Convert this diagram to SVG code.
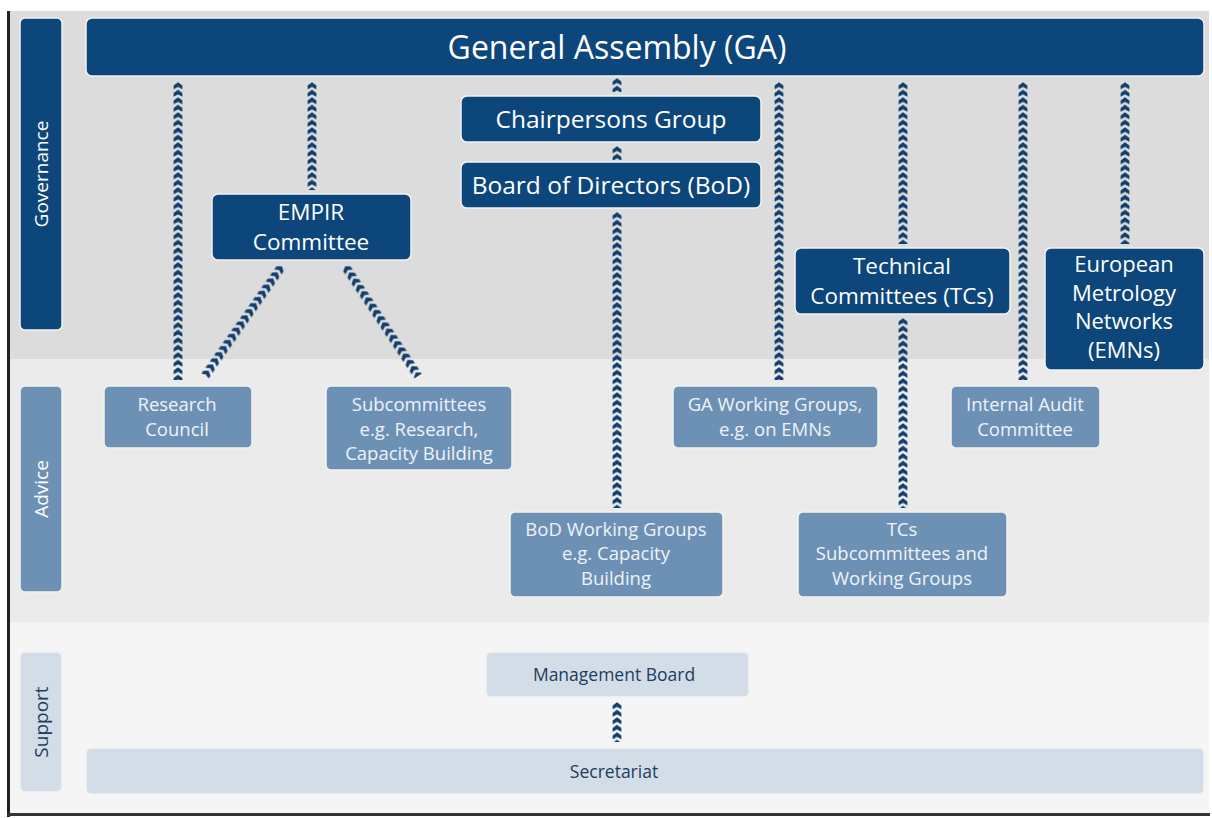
<svg xmlns="http://www.w3.org/2000/svg" width="1212" height="818" viewBox="0 0 1212 818">
<style>
  .t { font-family: "Open Sans", "Noto Sans", sans-serif; text-anchor: middle; }
  .dark { fill: #0c467a; stroke: #f2f2f2; stroke-width: 1.5; }
  .mid { fill: #6d91b5; stroke: #f2f2f2; stroke-width: 1.5; }
  .light { fill: #d3dde8; stroke: #f2f2f2; stroke-width: 1.5; }
  .wt { fill: #ffffff; }
  .big { font-size: 24.5px; }
  .two { font-size: 22.5px; }
  .mt { fill: #eef3f8; font-size: 18.5px; }
  .lt { fill: #1e3c5c; font-size: 17.5px; }
  .conn { fill: none; stroke: url(#chev); stroke-width: 10; }
</style>
<defs>
  <pattern id="chev" patternUnits="userSpaceOnUse" x="-5" y="0" width="10" height="7.5">
    <path d="M0.6,7.3 L0.6,3.4 L5,0.3 L9.4,3.4 L9.4,7.3 L5,5 Z" fill="#123f6d"/>
  </pattern>
</defs>
<rect x="0" y="0" width="1212" height="818" fill="#ffffff"/>
<g id="bands">
  <rect x="9" y="11" width="1200" height="348" fill="#dcdcdc"/>
  <rect x="9" y="359" width="1200" height="263" fill="#ebebeb"/>
  <rect x="9" y="622" width="1200" height="192" fill="#f5f5f5"/>
  <rect x="7" y="11" width="3" height="806" fill="#222222"/>
  <rect x="7" y="813" width="1203" height="3" fill="#333333"/>
</g>
<g id="lane-governance">
  <rect class="dark" x="20" y="18" width="42" height="312" rx="5"/>
  <text class="t wt" font-size="19" transform="translate(48,174) rotate(-90)">Governance</text>
</g>
<g id="lane-advice">
  <rect class="mid" x="20" y="386" width="42" height="206" rx="5"/>
  <text class="t wt" font-size="19" transform="translate(48,489) rotate(-90)">Advice</text>
</g>
<g id="lane-support">
  <rect class="light" x="20" y="652" width="42" height="140" rx="5"/>
  <text class="t" fill="#1e3c5c" font-size="19" transform="translate(48,722) rotate(-90)">Support</text>
</g>
<g id="connectors">
  <line class="conn" transform="translate(178,82)" x1="0" y1="0" x2="0" y2="298"/>
  <line class="conn" transform="translate(312,82)" x1="0" y1="0" x2="0" y2="108"/>
  <line class="conn" transform="translate(617,78)" x1="0" y1="0" x2="0" y2="14"/>
  <line class="conn" transform="translate(617,146)" x1="0" y1="0" x2="0" y2="14"/>
  <line class="conn" transform="translate(617,212)" x1="0" y1="0" x2="0" y2="296"/>
  <line class="conn" transform="translate(779,82)" x1="0" y1="0" x2="0" y2="298"/>
  <line class="conn" transform="translate(903,82)" x1="0" y1="0" x2="0" y2="162"/>
  <line class="conn" transform="translate(903,318)" x1="0" y1="0" x2="0" y2="190"/>
  <line class="conn" transform="translate(1023,82)" x1="0" y1="0" x2="0" y2="298"/>
  <line class="conn" transform="translate(1125,82)" x1="0" y1="0" x2="0" y2="162"/>
  <line class="conn" transform="translate(282,266) rotate(35)" x1="0" y1="0" x2="0" y2="134"/>
  <line class="conn" transform="translate(345,266) rotate(-33.6)" x1="0" y1="0" x2="0" y2="132"/>
  <line class="conn" transform="translate(617,702)" x1="0" y1="0" x2="0" y2="40"/>
</g>
<g id="ga">
  <rect class="dark" x="86" y="18" width="1118" height="58" rx="6"/>
  <text class="t wt" x="617" y="59" font-size="32">General Assembly (GA)</text>
</g>
<g id="chairpersons">
  <rect class="dark" x="461" y="96" width="300" height="46" rx="6"/>
  <text class="t wt big" x="611" y="128">Chairpersons Group</text>
</g>
<g id="bod">
  <rect class="dark" x="461" y="162" width="300" height="46" rx="6"/>
  <text class="t wt big" x="611" y="194">Board of Directors (BoD)</text>
</g>
<g id="empir">
  <rect class="dark" x="212" y="194" width="199" height="66" rx="6"/>
  <text class="t wt two" x="311" y="220">EMPIR<tspan x="311" dy="29.5">Committee</tspan></text>
</g>
<g id="tcs">
  <rect class="dark" x="795" y="248" width="215" height="66" rx="6"/>
  <text class="t wt two" x="902" y="274">Technical<tspan x="902" dy="29.5">Committees (TCs)</tspan></text>
</g>
<g id="emns">
  <rect class="dark" x="1045" y="248" width="159" height="122" rx="6"/>
  <text class="t wt" font-size="22" x="1124" y="272">European<tspan x="1124" dy="28.5">Metrology</tspan><tspan x="1124" dy="28.5">Networks</tspan><tspan x="1124" dy="28.5">(EMNs)</tspan></text>
</g>
<g id="research-council">
  <rect class="mid" x="104" y="386" width="148" height="62" rx="5"/>
  <text class="t mt" x="177" y="411">Research<tspan x="177" dy="25">Council</tspan></text>
</g>
<g id="subcommittees">
  <rect class="mid" x="326" y="386" width="186" height="84" rx="5"/>
  <text class="t mt" x="419" y="411">Subcommittees<tspan x="419" dy="25">e.g. Research,</tspan><tspan x="419" dy="24">Capacity Building</tspan></text>
</g>
<g id="ga-working-groups">
  <rect class="mid" x="673" y="386" width="205" height="62" rx="5"/>
  <text class="t mt" x="775" y="411">GA Working Groups,<tspan x="775" dy="25">e.g. on EMNs</tspan></text>
</g>
<g id="internal-audit">
  <rect class="mid" x="951" y="386" width="149" height="62" rx="5"/>
  <text class="t mt" x="1025" y="411">Internal Audit<tspan x="1025" dy="25">Committee</tspan></text>
</g>
<g id="bod-working-groups">
  <rect class="mid" x="510" y="512" width="213" height="85" rx="5"/>
  <text class="t mt" x="616" y="536">BoD Working Groups<tspan x="616" dy="24">e.g. Capacity</tspan><tspan x="616" dy="25">Building</tspan></text>
</g>
<g id="tcs-subcommittees">
  <rect class="mid" x="798" y="512" width="209" height="85" rx="5"/>
  <text class="t mt" x="902" y="536">TCs<tspan x="902" dy="24">Subcommittees and</tspan><tspan x="902" dy="25">Working Groups</tspan></text>
</g>
<g id="management-board">
  <rect class="light" x="486" y="652" width="263" height="45" rx="5"/>
  <text class="t lt" x="614" y="681">Management Board</text>
</g>
<g id="secretariat">
  <rect class="light" x="86" y="748" width="1118" height="46" rx="5"/>
  <text class="t lt" x="614" y="778">Secretariat</text>
</g>
</svg>
